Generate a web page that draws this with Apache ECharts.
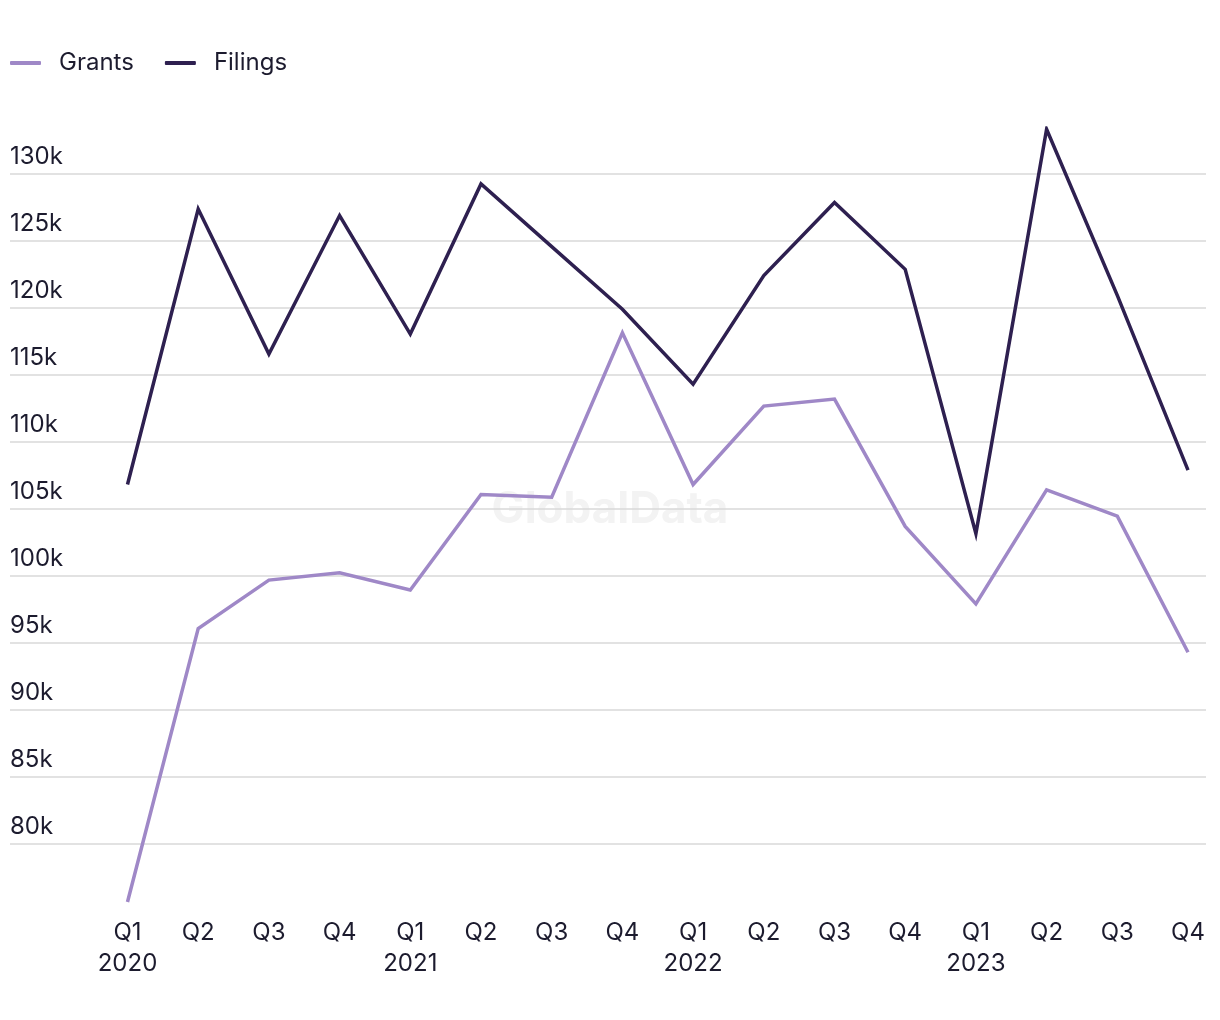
<!DOCTYPE html>
<html>
<head>
<meta charset="utf-8">
<script src="https://cdn.jsdelivr.net/npm/echarts@6/dist/echarts.min.js"></script>
<style>
html,body{margin:0;padding:0;background:#fff;}
#chart{width:1220px;height:1020px;}
</style>
</head>
<body>
<div id="chart"></div>
<script>
const categories = ['Q1 2020','Q2 2020','Q3 2020','Q4 2020','Q1 2021','Q2 2021','Q3 2021','Q4 2021','Q1 2022','Q2 2022','Q3 2022','Q4 2022','Q1 2023','Q2 2023','Q3 2023','Q4 2023'];
const grants = [75670, 96070, 99680, 100220, 98940, 106060, 105860, 118130, 106810, 112660, 113180, 103680, 97910, 106410, 104450, 94300];
const filings = [106810, 127360, 116540, 126870, 118030, 129230, 124550, 119880, 114300, 122390, 127840, 122860, 103150, 133310, 120920, 107880];
const yMin = 75000, yMax = 133400, yStep = 5000;

const textColor = '#1c1b2e';
const font = 'Inter';

const chart = echarts.init(document.getElementById('chart'), null, {renderer: 'canvas'});
const gridTop = 128, gridBottom = 109;

chart.setOption({
  animation: false,
  backgroundColor: '#ffffff',
  textStyle: {fontFamily: font},
  graphic: [{
    type: 'text', left: 'center', top: 488, z: -10, silent: true,
    style: {text: 'GlobalData', fontFamily: font, fontWeight: 'bold', fontSize: 44, fill: '#f3f3f3'}
  }],
  legend: {
    left: 10, top: 51, padding: 0,
    icon: 'roundRect',
    itemWidth: 31, itemHeight: 4, itemGap: 31,
    data: ['Grants', 'Filings'],
    textStyle: {fontFamily: font, fontSize: 24, color: textColor, padding: [0, 0, 0, 13]}
  },
  grid: [
    {left: 10, right: 14, top: gridTop, bottom: gridBottom},
    {left: 127.5, right: 32, top: gridTop, bottom: gridBottom}
  ],
  xAxis: [
    {type: 'category', gridIndex: 0, data: categories, show: false},
    {
      type: 'category', gridIndex: 1, data: categories, boundaryGap: false,
      axisLine: {show: false}, axisTick: {show: false},
      axisLabel: {
        interval: 0, margin: 6, fontFamily: font, fontSize: 24, color: textColor, lineHeight: 31,
        formatter: function (v) { const p = v.split(' '); return p[0] === 'Q1' ? p[0] + '\n' + p[1] : p[0]; }
      }
    }
  ],
  yAxis: [
    {
      type: 'value', gridIndex: 0, min: yMin, max: yMax, interval: yStep,
      axisLine: {show: false}, axisTick: {show: false},
      splitLine: {show: true, showMinLine: false, showMaxLine: false, lineStyle: {color: '#d9d9d9', width: 1.5}},
      axisLabel: {
        inside: true, margin: 0, showMinLabel: false, showMaxLabel: false,
        verticalAlign: 'bottom', lineHeight: 24, padding: [0, 0, 5, 0],
        fontFamily: font, fontSize: 24, color: textColor,
        formatter: function (v) { return (v / 1000) + 'k'; }
      }
    },
    {type: 'value', gridIndex: 1, min: yMin, max: yMax, interval: yStep, show: false, splitLine: {show: false}}
  ],
  series: [
    {
      name: 'Grants', type: 'line', xAxisIndex: 1, yAxisIndex: 1, data: grants,
      symbol: 'none', color: '#9f88c7',
      lineStyle: {width: 3.5, color: '#9f88c7', join: 'miter'}, z: 3
    },
    {
      name: 'Filings', type: 'line', xAxisIndex: 1, yAxisIndex: 1, data: filings,
      symbol: 'none', color: '#2e2050',
      lineStyle: {width: 3.5, color: '#2e2050', join: 'miter'}, z: 4
    }
  ]
});
</script>
</body>
</html>
